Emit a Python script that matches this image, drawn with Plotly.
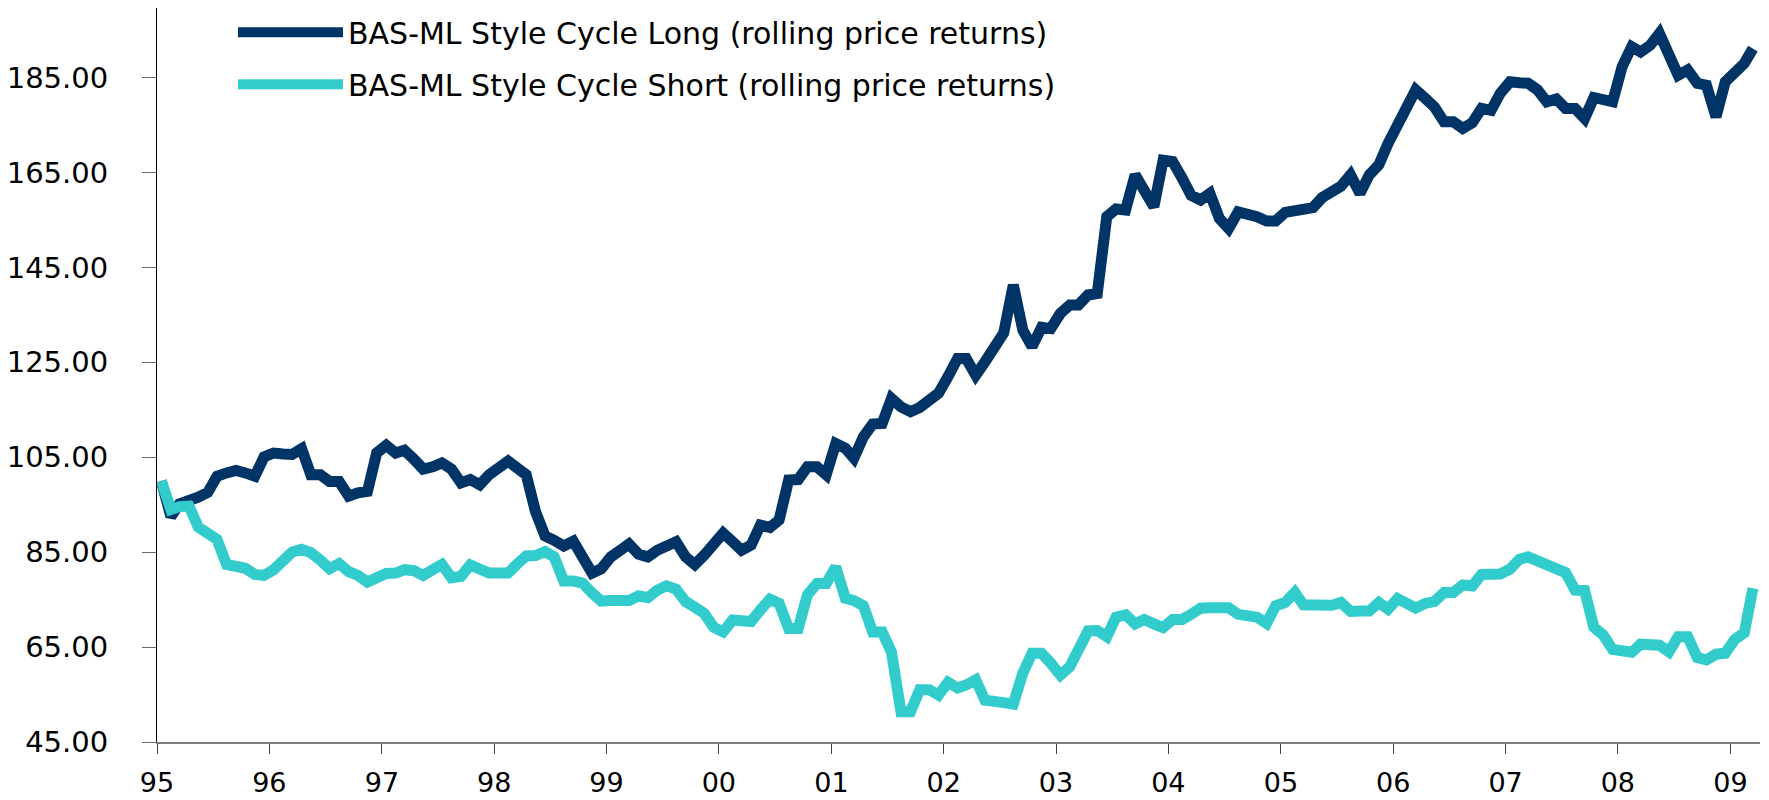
import pandas as pd
import plotly.graph_objects as go

# Monthly observations, Jan 1995 - Mar 2009
dates = pd.date_range("1995-01-01", periods=171, freq="MS") + pd.Timedelta(days=14)

long_vals = [
    100.0, 92.5, 95.2, 95.7, 96.6, 97.6, 101.0, 101.7, 102.2, 101.7, 101.0, 105.1,
    105.9, 105.7, 105.6, 106.8, 101.3, 101.3, 99.9, 99.9, 96.8, 97.5, 97.8, 105.9,
    107.5, 105.9, 106.5, 104.6, 102.5, 103.0, 103.8, 102.5, 99.6, 100.3, 99.2, 101.3,
    102.5, 104.2, 102.8, 101.3, 93.6, 88.4, 87.5, 86.3, 87.3, 84.1, 80.6, 81.5,
    84.0, 85.4, 86.7, 84.6, 84.0, 85.4, 86.5, 87.2, 84.0, 82.4, 84.4, 86.3,
    89.0, 87.2, 85.4, 86.5, 90.7, 90.2, 91.8, 100.2, 100.3, 103.0, 103.0, 101.3,
    107.9, 106.9, 104.8, 109.3, 112.0, 112.1, 117.4, 115.6, 114.6, 115.5, 116.7, 118.5,
    122.0, 125.8, 125.8, 122.3, 125.1, 128.6, 131.2, 141.3, 131.8, 128.3, 132.4, 132.1,
    135.3, 137.1, 137.1, 139.2, 139.5, 155.7, 157.3, 157.1, 164.5, 161.2, 157.8, 167.6,
    167.3, 163.8, 160.2, 159.2, 160.6, 155.3, 153.2, 156.7, 156.4, 155.7, 154.8, 154.8,
    156.6, 157.1, 157.4, 157.6, 159.7, 161.2, 162.1, 164.5, 160.6, 164.5, 166.6, 171.1,
    175.0, 177.9, 182.4, 180.6, 178.8, 175.7, 175.7, 174.3, 175.5, 178.5, 178.1, 181.7,
    184.1, 183.9, 183.8, 182.4, 179.9, 180.5, 178.5, 178.5, 176.4, 180.8, 180.4, 179.9,
    187.3, 191.5, 190.4, 191.8, 194.3, 189.0, 185.5, 186.6, 183.8, 183.4, 176.7, 184.1,
    185.7, 188.0, 191.1,
]

short_vals = [
    100.0, 94.0, 94.6, 94.7, 90.3, 88.7, 87.7, 82.4, 81.9, 81.6, 80.3, 80.1,
    81.3, 83.5, 85.0, 85.6, 84.9, 83.3, 81.5, 82.6, 80.9, 80.1, 78.7, 79.6,
    80.5, 80.6, 81.3, 81.1, 80.1, 81.3, 82.4, 79.6, 79.9, 82.3, 81.6, 80.6,
    80.6, 80.6, 82.4, 84.2, 84.3, 85.1, 84.0, 78.9, 78.9, 78.5, 76.4, 74.7,
    74.8, 75.1, 74.8, 75.8, 75.4, 77.0, 77.9, 77.2, 74.6, 73.4, 72.1, 69.2,
    68.2, 70.7, 70.4, 70.4, 72.8, 75.1, 74.2, 68.9, 68.9, 76.0, 78.4, 78.4,
    81.9, 75.3, 74.8, 73.7, 68.2, 68.2, 64.0, 51.4, 51.4, 56.0, 56.0, 54.9,
    57.6, 56.4, 57.0, 58.1, 53.8, 53.8, 53.3, 53.0, 59.5, 63.7, 63.7, 61.6,
    59.1, 60.9, 65.1, 68.4, 68.5, 67.2, 71.3, 71.8, 69.9, 70.8, 69.9, 69.1,
    70.8, 70.8, 71.9, 73.2, 73.3, 73.4, 73.3, 71.9, 71.4, 71.3, 70.0, 73.7,
    74.4, 76.5, 73.9, 73.7, 73.7, 73.8, 74.4, 72.5, 72.6, 72.6, 74.4, 73.0,
    75.2, 73.9, 73.2, 74.2, 74.6, 76.5, 76.5, 78.1, 77.9, 80.3, 80.4, 80.4,
    81.4, 83.5, 84.0, 83.2, 81.9, 81.4, 80.7, 77.0, 76.9, 69.2, 67.5, 64.5,
    64.4, 63.9, 65.6, 65.4, 65.4, 64.0, 67.2, 67.2, 62.8, 62.3, 63.5, 63.7,
    66.6, 68.0, 77.4,
]

series_names = [
    "BAS-ML Style Cycle Long (rolling price returns)",
    "BAS-ML Style Cycle Short (rolling price returns)",
]
series_colors = ["#003366", "#33CCCC"]
y_ticks = [45, 65, 85, 105, 125, 145, 165, 185]

FONT = "DejaVu Sans"

fig = go.Figure()
for i, (name, vals, col) in enumerate(zip(series_names, [long_vals, short_vals], series_colors)):
    fig.add_trace(go.Scatter(
        x=dates, y=vals, mode="lines", name=name,
        legendgroup=f"g{i}",
        line=dict(color=col, width=11, shape="linear"),
        hoverinfo="x+y",
    ))

# the page body adds an 8px offset, so the figure is sized to fill the rest of the window
fig.update_layout(
    width=1761, height=792,
    margin=dict(l=149, r=9, t=0, b=58, autoexpand=False),
    paper_bgcolor="white", plot_bgcolor="white",
    font=dict(family=FONT, size=28, color="#000000"),
    showlegend=True,
    legend=dict(
        x=0.0474, y=1.0024, xanchor="left", yanchor="top",
        font=dict(family=FONT, size=30, color="#000000"),
        itemwidth=105, tracegroupgap=10,
        bgcolor="rgba(0,0,0,0)", borderwidth=0,
    ),
    xaxis=dict(
        type="date",
        range=["1995-01-01", "2009-04-07"],
        tick0="1995-01-01", dtick="M12", tickformat="%y",
        showgrid=False, zeroline=False, automargin=False, tickangle=0,
        showline=True, linecolor="#7a7a7a", linewidth=2,
        ticks="outside", ticklen=10, tickwidth=1, tickcolor="#404040",
        ticklabelstandoff=6,
        tickfont=dict(family=FONT, size=27, color="#000000"),
    ),
    yaxis=dict(
        range=[45, 199.66],
        tickmode="array", tickvals=y_ticks,
        ticktext=[f"{v:.2f}" for v in y_ticks],
        showgrid=False, zeroline=False, automargin=False,
        showline=True, linecolor="#000000", linewidth=1,
        ticks="outside", ticklen=14, tickwidth=1, tickcolor="#6a6a6a",
        ticklabelstandoff=28,
        tickfont=dict(family=FONT, size=29, color="#000000"),
    ),
)

fig.write_html("out.html")
